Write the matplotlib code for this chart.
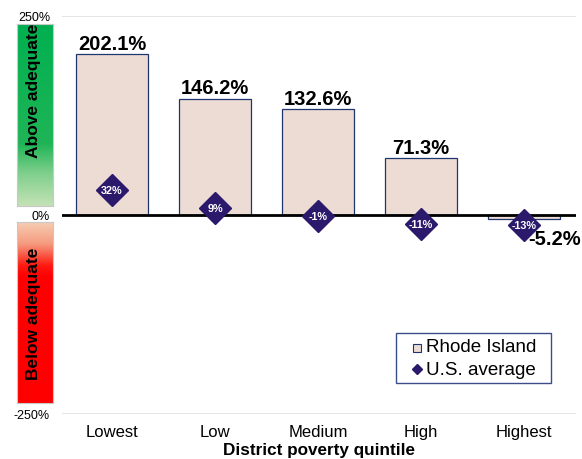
import numpy as np
import matplotlib
matplotlib.use("Agg")
import matplotlib.pyplot as plt
from matplotlib.colors import LinearSegmentedColormap
from matplotlib.lines import Line2D
from matplotlib.patches import Rectangle

plt.rcParams['font.family'] = ['Liberation Sans', 'DejaVu Sans']

categories = ["Lowest", "Low", "Medium", "High", "Highest"]
ri_values = [202.1, 146.2, 132.6, 71.3, -5.2]
us_values = [32, 9, -1, -11, -13]
ri_labels = ["202.1%", "146.2%", "132.6%", "71.3%", "-5.2%"]
us_labels = ["32%", "9%", "-1%", "-11%", "-13%"]
ytick_vals = [250, 0, -250]
ytick_labels = ["250%", "0%", "-250%"]

W, H = 582, 460
fig = plt.figure(figsize=(W / 100, H / 100), dpi=100)

def fx(px):
    return px / W

def fy(py):
    return 1 - py / H

AX_TOP, AX_BOT = 17, 415
ax = fig.add_axes([fx(62), fy(AX_BOT), fx(576) - fx(62), fy(AX_TOP) - fy(AX_BOT)])
x = np.arange(len(categories))
bar_face = "#ecdcd3"
bar_edge = "#1f3570"
diamond = "#2b1a6b"

ax.bar(x, ri_values, width=0.70, color=bar_face, edgecolor=bar_edge, linewidth=0.9, zorder=2)
ax.axhline(0, color="black", linewidth=2, zorder=3)
for yv in (250, -250):
    ax.axhline(yv, color="#e0e0e0", linewidth=1.2, zorder=1)

ax.plot(x, us_values, linestyle="none", marker="D", markersize=16.5,
        color=diamond, markeredgecolor=diamond, zorder=5)
for xi, yv, lab in zip(x, us_values, us_labels):
    ax.text(xi, yv, lab, color="white", fontsize=7.8, fontweight="bold",
            ha="center", va="center", zorder=6)

for xi, yv, lab in zip(x, ri_values, ri_labels):
    if yv >= 0:
        ax.annotate(lab, (xi, yv), xytext=(0, 4), textcoords="offset points",
                    ha="center", va="baseline", fontsize=14.5, fontweight="bold", zorder=4)
    else:
        ax.annotate(lab, (xi + 0.04, yv), xytext=(0, -14), textcoords="offset points",
                    ha="left", va="center", fontsize=14.5, fontweight="bold", zorder=4,
                    annotation_clip=False)

ax.set_xlim(-0.485, 4.505)
ax.set_ylim(-250, 250)
ax.set_xticks(x)
ax.set_xticklabels(categories, fontsize=12)
ax.tick_params(axis="x", length=0, pad=7.5)
ax.set_yticks([])
for s in ax.spines.values():
    s.set_visible(False)
ax.set_xlabel("District poverty quintile", fontsize=12.3, fontweight="bold", labelpad=2)

# y tick labels in figure space
zero_px = (AX_TOP + AX_BOT) / 2
scale = (AX_BOT - AX_TOP) / 500
for yv, lab in zip(ytick_vals, ytick_labels):
    py = zero_px - yv * scale + 1
    fig.text(fx(50), fy(py), lab, ha="right", va="center", fontsize=9)

# gradient bands
green_cmap = LinearSegmentedColormap.from_list(
    "g", [(0.0, "#00b050"), (0.66, "#1fb556"), (0.82, "#7fcf8c"), (1.0, "#c4e2b6")])
red_cmap = LinearSegmentedColormap.from_list(
    "r", [(0.0, "#f6cdb3"), (0.12, "#f59a7e"), (0.24, "#ff1a10"), (0.3, "#ff0000"), (1.0, "#ff0000")])
grad = np.linspace(0, 1, 256).reshape(-1, 1)

def band(top, bot, cmap, label, ty):
    a = fig.add_axes([fx(17), fy(bot), fx(53) - fx(17), fy(top) - fy(bot)])
    a.imshow(grad, aspect="auto", cmap=cmap, extent=[0, 1, 1, 0])
    a.set_xticks([])
    a.set_yticks([])
    for s in a.spines.values():
        s.set_color("#c8c8c8")
        s.set_linewidth(0.8)
    a.text(0.45, ty, label, rotation=90, ha="center", va="center",
           fontsize=12.5, fontweight="bold", transform=a.transAxes)

band(25, 207, green_cmap, "Above adequate", 0.64)
band(223, 404, red_cmap, "Below adequate", 0.5)

# legend drawn in figure pixel space
fig.add_artist(Rectangle((fx(396), fy(384)), fx(551) - fx(396), fy(334) - fy(384),
                         transform=fig.transFigure, facecolor="white",
                         edgecolor="#3a4f8a", linewidth=1.0, zorder=10))
fig.add_artist(Line2D([fx(417)], [fy(349)], transform=fig.transFigure, linestyle="none",
                      marker="s", markersize=5.2, markerfacecolor=bar_face,
                      markeredgecolor=bar_edge, markeredgewidth=0.8, zorder=11))
fig.add_artist(Line2D([fx(417)], [fy(370)], transform=fig.transFigure, linestyle="none",
                      marker="D", markersize=5.2, color=diamond, zorder=11))
fig.text(fx(426), fy(348), "Rhode Island", ha="left", va="center", fontsize=13.5, zorder=12)
fig.text(fx(426), fy(371), "U.S. average", ha="left", va="center", fontsize=13.5, zorder=12)

fig.savefig("out.png", dpi=100)
